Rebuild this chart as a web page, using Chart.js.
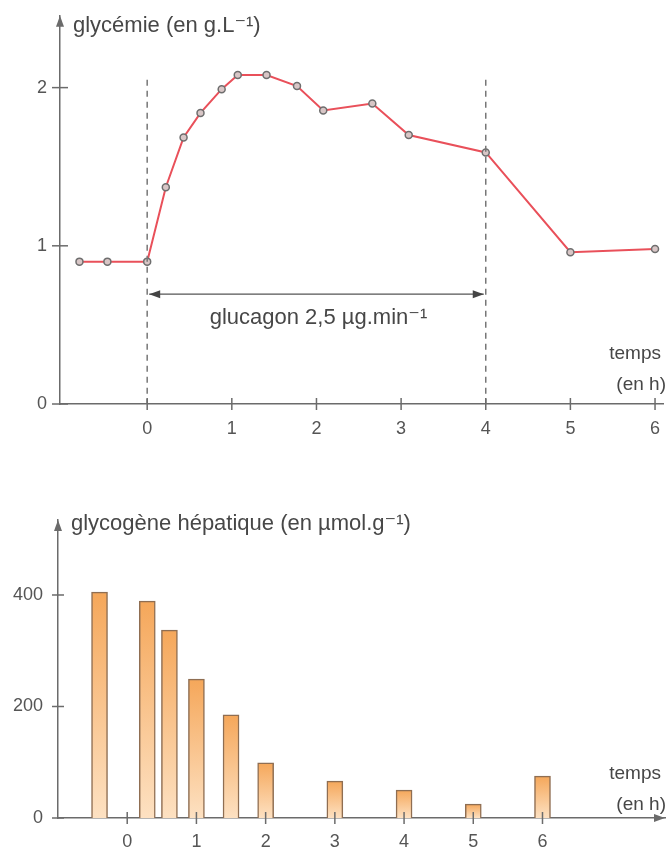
<!DOCTYPE html>
<html>
<head>
<meta charset="utf-8">
<script src="https://cdn.jsdelivr.net/npm/chart.js@4.4.1/dist/chart.umd.min.js"></script>
<style>
  body { margin: 0; background: #fff; }
  #wrap { position: relative; width: 669px; height: 848px; }
  #glycemie { position: absolute; left: 0; top: 0; }
  #glycogene { position: absolute; left: 0; top: 440px; }
</style>
</head>
<body>
<div id="wrap">
  <canvas id="glycemie" width="669" height="440"></canvas>
  <canvas id="glycogene" width="669" height="408"></canvas>
</div>
<script>
// glycémie (g/L) en fonction du temps (h)
const glyTemps = [-0.8, -0.47, 0, 0.22, 0.43, 0.63, 0.88, 1.07, 1.41, 1.77, 2.08, 2.66, 3.09, 4, 5, 6];
const glyValeurs = [0.9, 0.9, 0.9, 1.37, 1.685, 1.84, 1.99, 2.08, 2.08, 2.01, 1.855, 1.9, 1.7, 1.59, 0.96, 0.98];
const glyTicksX = [0, 1, 2, 3, 4, 5, 6];
const glyTicksY = [0, 1, 2];

// perfusion de glucagon
const glucagonDebut = 0;
const glucagonFin = 4;
const glucagonTexte = 'glucagon 2,5 µg.min⁻¹';

// glycogène hépatique (µmol/g)
const glcTemps = [-0.4, 0.29, 0.61, 1, 1.5, 2, 3, 4, 5, 6];
const glcValeurs = [405, 389, 337, 249, 185, 99, 66, 50, 25, 75];
const glcTicksX = [0, 1, 2, 3, 4, 5, 6];
const glcTicksY = [0, 200, 400];

const AXE = '#6b6b6b';
const TEXTE = '#474747';
const POLICE = '"Liberation Sans", "DejaVu Sans", Arial, sans-serif';

function fleche(ctx, x, y, dir) {
    ctx.beginPath();
    if (dir === 'up') {
        ctx.moveTo(x, y); ctx.lineTo(x - 4, y + 11); ctx.lineTo(x + 4, y + 11);
    } else if (dir === 'right') {
        ctx.moveTo(x, y); ctx.lineTo(x - 11, y - 4); ctx.lineTo(x - 11, y + 4);
    } else {
        ctx.moveTo(x, y); ctx.lineTo(x + 11, y - 4); ctx.lineTo(x + 11, y + 4);
    }
    ctx.closePath();
    ctx.fill();
}

// ticks qui traversent l'axe, flèches, titres
const decor = {
    id: 'decor',
    afterDraw(chart, args, opts) {
        const ctx = chart.ctx;
        const area = chart.chartArea;
        const x = chart.scales.x;
        const y = chart.scales.y;
        ctx.save();
        ctx.strokeStyle = AXE;
        ctx.fillStyle = AXE;
        ctx.lineWidth = 1.5;
        y.ticks.forEach(t => {
            const py = y.getPixelForValue(t.value);
            ctx.beginPath();
            ctx.moveTo(area.left - opts.tick, py);
            ctx.lineTo(area.left + opts.tick, py);
            ctx.stroke();
        });
        x.ticks.forEach(t => {
            const px = x.getPixelForValue(t.value);
            ctx.beginPath();
            ctx.moveTo(px, area.bottom - 6);
            ctx.lineTo(px, area.bottom + 6);
            ctx.stroke();
        });
        fleche(ctx, area.left, area.top, 'up');
        if (opts.flecheX) fleche(ctx, area.right, area.bottom, 'right');

        ctx.fillStyle = TEXTE;
        ctx.font = '22px ' + POLICE;
        ctx.textBaseline = 'alphabetic';
        ctx.textAlign = 'left';
        ctx.fillText(opts.titre, area.left + 13, area.top + opts.titreY);
        ctx.font = '19px ' + POLICE;
        ctx.textAlign = 'right';
        ctx.fillText('temps', 661, area.bottom + opts.tempsY);
        ctx.fillText('(en h)', 666, area.bottom + opts.tempsY + 31);
        ctx.restore();
    }
};

// lignes pointillées et double flèche du glucagon
const glucagon = {
    id: 'glucagon',
    afterDatasetsDraw(chart) {
        const ctx = chart.ctx;
        const x = chart.scales.x;
        const y = chart.scales.y;
        const x0 = x.getPixelForValue(glucagonDebut);
        const x1 = x.getPixelForValue(glucagonFin);
        const haut = y.getPixelForValue(2.05);
        const bas = y.getPixelForValue(0);
        const yf = y.getPixelForValue(0.694);
        ctx.save();
        ctx.strokeStyle = '#777';
        ctx.lineWidth = 1.5;
        ctx.setLineDash([6, 5]);
        [x0, x1].forEach(px => {
            ctx.beginPath();
            ctx.moveTo(px, haut);
            ctx.lineTo(px, bas);
            ctx.stroke();
        });
        ctx.setLineDash([]);
        ctx.strokeStyle = '#555';
        ctx.lineWidth = 1.2;
        ctx.beginPath();
        ctx.moveTo(x0 + 2, yf);
        ctx.lineTo(x1 - 2, yf);
        ctx.stroke();
        ctx.fillStyle = '#444';
        fleche(ctx, x0 + 2, yf, 'left');
        fleche(ctx, x1 - 2, yf, 'right');
        ctx.fillStyle = TEXTE;
        ctx.font = '22px ' + POLICE;
        ctx.textAlign = 'center';
        ctx.textBaseline = 'alphabetic';
        ctx.fillText(glucagonTexte, (x0 + x1) / 2 + 2, yf + 30);
        ctx.restore();
    }
};

function axeX(min, max, ticks, hauteur, pad) {
    return {
        type: 'linear',
        min: min,
        max: max,
        offset: false,
        afterBuildTicks: s => { s.ticks = ticks.map(v => ({ value: v })); },
        afterFit: s => { s.height = hauteur; s.paddingLeft = 0; s.paddingRight = 0; },
        grid: { display: false },
        border: { color: AXE, width: 1.5 },
        ticks: { color: '#555', padding: pad, maxRotation: 0, autoSkip: false, font: { family: POLICE, size: 18 } }
    };
}

function axeY(min, max, ticks, largeur, pad) {
    return {
        type: 'linear',
        min: min,
        max: max,
        afterBuildTicks: s => { s.ticks = ticks.map(v => ({ value: v })); },
        afterFit: s => { s.width = largeur; },
        grid: { display: false },
        border: { color: AXE, width: 1.5 },
        ticks: { color: '#555', padding: pad, font: { family: POLICE, size: 18 } }
    };
}

new Chart(document.getElementById('glycemie'), {
    type: 'line',
    data: {
        datasets: [{
            data: glyTemps.map((t, i) => ({ x: t, y: glyValeurs[i] })),
            borderColor: '#e9505a',
            borderWidth: 2,
            pointRadius: 3.5,
            pointBackgroundColor: '#d8c6c6',
            pointBorderColor: '#6e6e6e',
            pointBorderWidth: 1.5,
            tension: 0
        }]
    },
    options: {
        responsive: false,
        animation: false,
        events: [],
        layout: { padding: { top: 15, right: 0, left: 0, bottom: 0 } },
        plugins: {
            legend: { display: false },
            tooltip: { enabled: false },
            decor: { titre: 'glycémie (en g.L⁻¹)', titreY: 16, tick: 8, flecheX: false, tempsY: -45 }
        },
        scales: {
            x: axeX(-1.03, 6.1, glyTicksX, 36, 6),
            y: axeY(0, 2.454, glyTicksY, 60, 5)
        }
    },
    plugins: [decor, glucagon]
});

new Chart(document.getElementById('glycogene'), {
    type: 'bar',
    data: {
        datasets: [{
            data: glcTemps.map((t, i) => ({ x: t, y: glcValeurs[i] })),
            barThickness: 16,
            borderColor: '#8f6e52',
            borderWidth: 1.5,
            borderSkipped: 'bottom',
            backgroundColor: c => {
                const chart = c.chart;
                if (!chart.chartArea || !c.raw) return '#f6b064';
                const y = chart.scales.y;
                const haut = y.getPixelForValue(c.raw.y);
                const bas = y.getPixelForValue(0);
                const g = chart.ctx.createLinearGradient(0, haut, 0, bas);
                g.addColorStop(0, '#f5a75a');
                g.addColorStop(1, '#fde1c2');
                return g;
            }
        }]
    },
    options: {
        responsive: false,
        animation: false,
        events: [],
        layout: { padding: { top: 80, right: 4, left: 0, bottom: 0 } },
        plugins: {
            legend: { display: false },
            tooltip: { enabled: false },
            decor: { titre: 'glycogène hépatique (en µmol.g⁻¹)', titreY: 10, tick: 6, flecheX: true, tempsY: -39 }
        },
        scales: {
            x: axeX(-1, 7.77, glcTicksX, 30, 5),
            y: axeY(0, 534.5, glcTicksY, 58, 7)
        }
    },
    plugins: [decor]
});
</script>
</body>
</html>
